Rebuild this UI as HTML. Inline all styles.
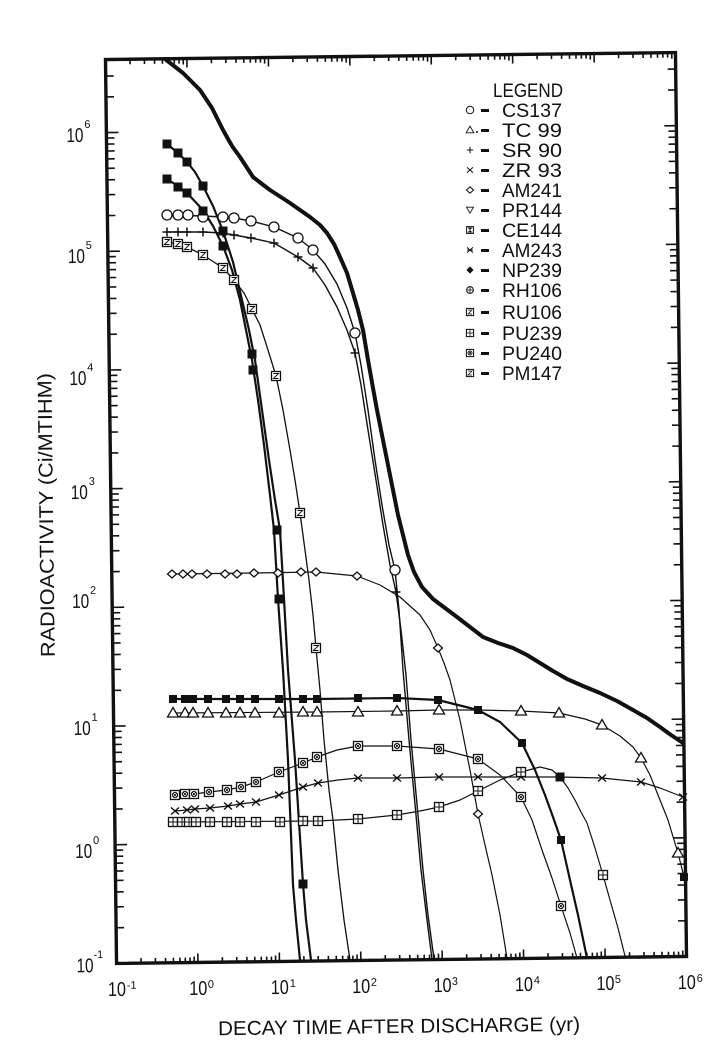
<!DOCTYPE html>
<html><head><meta charset="utf-8"><style>
html,body{margin:0;padding:0;background:#fff;}
svg{display:block;}
text{font-family:"Liberation Sans",sans-serif;fill:#111;}
</style></head><body>
<svg width="724" height="1056" viewBox="0 0 724 1056" xmlns="http://www.w3.org/2000/svg">
<rect width="724" height="1056" fill="#fff"/>
<defs>
<g id="mc"><circle r="5" fill="#fff" stroke="#111" stroke-width="1.3"/></g>
<g id="mp"><path d="M-4.5 0H4.5M0 -4.5V4.5" stroke="#111" stroke-width="1.5" fill="none"/></g>
<g id="mx"><path d="M-4 -3.5L4 3.5M-4 3.5L4 -3.5" stroke="#111" stroke-width="1.4" fill="none"/></g>
<g id="mt"><path d="M0 -5.5L5.5 4H-5.5Z" fill="#fff" stroke="#111" stroke-width="1.3"/></g>
<g id="md"><path d="M-4.5 0L0 -4L4.5 0L0 4Z" fill="#fff" stroke="#111" stroke-width="1.3"/></g>
<g id="mf"><rect x="-4.5" y="-4.5" width="9" height="9" fill="#111"/></g>
<g id="mn"><rect x="-4" y="-4" width="8" height="8" fill="#111"/></g>
<g id="mq"><rect x="-4.5" y="-4.5" width="9" height="9" fill="#fff" stroke="#111" stroke-width="1.3"/><path d="M-2.5 -2.5H2.5L-2.5 2.5H2.5" fill="none" stroke="#111" stroke-width="1"/></g>
<g id="mo"><rect x="-4.5" y="-4.5" width="9" height="9" fill="#fff" stroke="#111" stroke-width="1.3"/><circle r="2.6" fill="none" stroke="#111" stroke-width="1"/><path d="M-1.8 -1.8L1.8 1.8M-1.8 1.8L1.8 -1.8" stroke="#111" stroke-width="0.9"/></g>
<g id="mh"><rect x="-4.5" y="-4.5" width="9" height="9" fill="#fff" stroke="#111" stroke-width="1.3"/><path d="M-4.5 0H4.5M0 -4.5V4.5" stroke="#111" stroke-width="1"/></g>
<g id="mr"><rect x="-4" y="-4" width="8" height="8" fill="#fff" stroke="#111" stroke-width="1.2"/><path d="M-3 -3H3L-3 3H3Z" fill="#111"/></g>
<g id="mv"><path d="M0 4.5L-5 -4H5Z" fill="#fff" stroke="#111" stroke-width="1.2"/></g>
<g id="mz"><path d="M-4 -3.5L4 3.5M-4 3.5L4 -3.5M-4 0H4" stroke="#111" stroke-width="1.3" fill="none"/></g>
<g id="mdf"><path d="M-4.5 0L0 -4.5L4.5 0L0 4.5Z" fill="#111"/></g>
<g id="mcp"><circle r="4" fill="#fff" stroke="#111" stroke-width="1.2"/><path d="M-4 0H4M0 -4V4" stroke="#111" stroke-width="1"/></g>
</defs>

<g transform="rotate(-0.7 396 508)">
<rect x="111" y="56" width="570" height="904" fill="none" stroke="#111" stroke-width="3.4"/>
<g stroke="#111" stroke-width="1.6" fill="none">
<path d="M135.5 960v-5M149.9 960v-5M160 960v-5M167.9 960v-5M174.4 960v-5M179.8 960v-5M184.5 960v-5M188.7 960v-6
M216.9 960v-5M231.3 960v-5M241.4 960v-5M249.3 960v-5M255.8 960v-5M261.2 960v-5M265.9 960v-5M270.1 960v-6
M298.4 960v-5M312.7 960v-5M322.9 960v-5M330.8 960v-5M337.2 960v-5M342.7 960v-5M347.4 960v-5M351.6 960v-6
M379.8 960v-5M394.2 960v-5M404.3 960v-5M412.2 960v-5M418.7 960v-5M424.1 960v-5M428.8 960v-5M433 960v-6
M461.2 960v-5M475.6 960v-5M485.7 960v-5M493.6 960v-5M500.1 960v-5M505.5 960v-5M510.2 960v-5M514.4 960v-6
M542.6 960v-5M557 960v-5M567.1 960v-5M575 960v-5M581.5 960v-5M586.9 960v-5M591.6 960v-5M595.8 960v-6
M624.1 960v-5M638.5 960v-5M648.6 960v-5M656.5 960v-5M663 960v-5M668.4 960v-5M673.1 960v-5M677.3 960v-6
M192.4 960v-9M273.9 960v-9M355.3 960v-9M436.7 960v-9M518.1 960v-9M599.6 960v-9"/>
<path d="M135.5 56v5M149.9 56v5M160 56v5M167.9 56v5M174.4 56v5M179.8 56v5M184.5 56v5M188.7 56v6
M216.9 56v5M231.3 56v5M241.4 56v5M249.3 56v5M255.8 56v5M261.2 56v5M265.9 56v5M270.1 56v6
M298.4 56v5M312.7 56v5M322.9 56v5M330.8 56v5M337.2 56v5M342.7 56v5M347.4 56v5M351.6 56v6
M379.8 56v5M394.2 56v5M404.3 56v5M412.2 56v5M418.7 56v5M424.1 56v5M428.8 56v5M433 56v6
M461.2 56v5M475.6 56v5M485.7 56v5M493.6 56v5M500.1 56v5M505.5 56v5M510.2 56v5M514.4 56v6
M542.6 56v5M557 56v5M567.1 56v5M575 56v5M581.5 56v5M586.9 56v5M591.6 56v5M595.8 56v6
M624.1 56v5M638.5 56v5M648.6 56v5M656.5 56v5M663 56v5M668.4 56v5M673.1 56v5M677.3 56v6
M192.4 56v9M273.9 56v9M355.3 56v9M436.7 56v9M518.1 56v9M599.6 56v9"/>
<path d="M111 924.3h8M111 903.4h8M111 888.5h8M111 877h8M111 867.6h8M111 859.7h8M111 852.8h8M111 846.7h8
M111 805.6h8M111 784.7h8M111 769.8h8M111 758.3h8M111 748.9h8M111 741h8M111 734.1h8M111 728h8
M111 686.9h8M111 666h8M111 651.1h8M111 639.6h8M111 630.2h8M111 622.3h8M111 615.4h8M111 609.3h8
M111 568.2h8M111 547.3h8M111 532.4h8M111 520.9h8M111 511.5h8M111 503.6h8M111 496.7h8M111 490.6h8
M111 449.5h8M111 428.6h8M111 413.7h8M111 402.2h8M111 392.8h8M111 384.9h8M111 378h8M111 371.9h8
M111 330.8h8M111 309.9h8M111 295h8M111 283.5h8M111 274.1h8M111 266.2h8M111 259.3h8M111 253.2h8
M111 212.1h8M111 191.2h8M111 176.3h8M111 164.8h8M111 155.4h8M111 147.5h8M111 140.6h8M111 134.5h8
M111 93.4h8M111 72.5h8
M111 841.3h12M111 722.6h12M111 603.9h12M111 485.2h12M111 366.5h12M111 247.8h12M111 129.1h12"/>
<path d="M681 924.3h-8M681 903.4h-8M681 888.5h-8M681 877h-8M681 867.6h-8M681 859.7h-8M681 852.8h-8M681 846.7h-8
M681 805.6h-8M681 784.7h-8M681 769.8h-8M681 758.3h-8M681 748.9h-8M681 741h-8M681 734.1h-8M681 728h-8
M681 686.9h-8M681 666h-8M681 651.1h-8M681 639.6h-8M681 630.2h-8M681 622.3h-8M681 615.4h-8M681 609.3h-8
M681 568.2h-8M681 547.3h-8M681 532.4h-8M681 520.9h-8M681 511.5h-8M681 503.6h-8M681 496.7h-8M681 490.6h-8
M681 449.5h-8M681 428.6h-8M681 413.7h-8M681 402.2h-8M681 392.8h-8M681 384.9h-8M681 378h-8M681 371.9h-8
M681 330.8h-8M681 309.9h-8M681 295h-8M681 283.5h-8M681 274.1h-8M681 266.2h-8M681 259.3h-8M681 253.2h-8
M681 212.1h-8M681 191.2h-8M681 176.3h-8M681 164.8h-8M681 155.4h-8M681 147.5h-8M681 140.6h-8M681 134.5h-8
M681 93.4h-8M681 72.5h-8
M681 841.3h-12M681 722.6h-12M681 603.9h-12M681 485.2h-12M681 366.5h-12M681 247.8h-12M681 129.1h-12"/>
</g>

<!-- Y tick labels -->
<g font-size="20">
<text x="71" y="138.1" textLength="17" lengthAdjust="spacingAndGlyphs">10</text>
<text x="71" y="259.1" textLength="17" lengthAdjust="spacingAndGlyphs">10</text>
<text x="71" y="381.1" textLength="17" lengthAdjust="spacingAndGlyphs">10</text>
<text x="71" y="495.1" textLength="17" lengthAdjust="spacingAndGlyphs">10</text>
<text x="71" y="604.1" textLength="17" lengthAdjust="spacingAndGlyphs">10</text>
<text x="71" y="731.1" textLength="17" lengthAdjust="spacingAndGlyphs">10</text>
<text x="71" y="854.1" textLength="17" lengthAdjust="spacingAndGlyphs">10</text>
<text x="71" y="968.5" textLength="17" lengthAdjust="spacingAndGlyphs">10</text>
</g>
<g font-size="11">
<text x="89" y="124.1">6</text>
<text x="89" y="245.1">5</text>
<text x="89" y="367.1">4</text>
<text x="89" y="481.1">3</text>
<text x="89" y="590.1">2</text>
<text x="89" y="717.1">1</text>
<text x="89" y="840.1">0</text>
<text x="88" y="954.5">-1</text>
</g>

<!-- X tick labels -->
<g font-size="20" text-anchor="middle">
<text x="111" y="992.5" textLength="18" lengthAdjust="spacingAndGlyphs">10</text>
<text x="192.4" y="992.5" textLength="18" lengthAdjust="spacingAndGlyphs">10</text>
<text x="273.9" y="992.5" textLength="18" lengthAdjust="spacingAndGlyphs">10</text>
<text x="355.3" y="992.5" textLength="18" lengthAdjust="spacingAndGlyphs">10</text>
<text x="436.7" y="992.5" textLength="18" lengthAdjust="spacingAndGlyphs">10</text>
<text x="518.1" y="992.5" textLength="18" lengthAdjust="spacingAndGlyphs">10</text>
<text x="599.6" y="992.5" textLength="18" lengthAdjust="spacingAndGlyphs">10</text>
<text x="681" y="992.5" textLength="18" lengthAdjust="spacingAndGlyphs">10</text>
</g>
<g font-size="11">
<text x="121" y="985.5">-1</text>
<text x="202" y="985.5">0</text>
<text x="284" y="985.5">1</text>
<text x="365" y="985.5">2</text>
<text x="446" y="985.5">3</text>
<text x="528" y="985.5">4</text>
<text x="609" y="985.5">5</text>
<text x="691" y="985.5">6</text>
</g>

<text x="211.7" y="1033" font-size="20" textLength="362" lengthAdjust="spacingAndGlyphs">DECAY TIME AFTER DISCHARGE (yr)</text>
<text transform="translate(53,510.8) rotate(-90)" x="0" y="0" text-anchor="middle" font-size="20" textLength="284" lengthAdjust="spacingAndGlyphs">RADIOACTIVITY (Ci/MTIHM)</text>
</g>

<!-- Curves (screen coords) -->
<g fill="none" stroke="#111" stroke-linejoin="round" stroke-linecap="round">
<polyline stroke-width="4" points="165,59 183,73 200,90 212,108 223,130 232,146 240,157 253,177 262,184 270,190 290,203 310,217 320,225 327,233 334,244 340,257 347,273 353,293 358,310 363,330 368,360 373,388 377,410 382,435 387,460 393,490 398,515 403,535 408,555 414,572 422,587 433,599 445,608 457,617 470,627 483,637 498,643 513,648 527,655 540,663 553,671 567,679 583,686 600,693 617,701 633,710 647,718 660,727 671,735 683,743"/>
<polyline stroke-width="2.2" points="167,179 178,186 187,193 203,210 213,226 223,246 232,270 240,300 246,330 252,360 258,400 264,445 270,495 274,530 278,599 283,670 288,760 293,885 296,920 300,960"/>
<polyline stroke-width="2.2" points="167,144 178,153 187,162 195,172 203,186 213,206 223,231 233,262 242,300 249,330 255,360 262,410 269,460 275,500 280,530 284,599 288,670 295,760 303,884 306,920 311,960"/>
<polyline stroke-width="1.3" points="167,242 178,244 187,247 203,255 223,268 234,280 244,293 252,309 260,325 268,350 276,376 283,410 290,450 295,480 300,513 305,550 309,580 313,615 316,648 320,690 324,740 329,790 333,820 338,870 344,920 350,960"/>
<polyline stroke-width="1.4" points="167,215 203,216 223,217 234,218 251,221 274,227 298,238 313,250 325,264 337,284 347,308 355,333 361,365 368,410 375,460 382,505 389,545 395,570 399,610 403,670 409,740 416,815 421,870 427,920 432,959"/>
<polyline stroke-width="1.4" points="167,232 203,232 223,233 234,235 251,238 274,243 298,257 313,268 325,285 337,307 347,330 355,353 361,385 368,430 376,480 383,525 390,565 396,592 401,630 406,675 411,740 418,815 423,870 428,915 434,959"/>
<polyline stroke-width="1.2" points="172,574 254,573 316,572 357,576 380,585 400,597 420,615 430,630 438,648 444,663 450,680 460,720 470,770 478,814 485,845 492,875 500,915 507,958"/>
<polyline stroke-width="2.2" points="173,699 255,699 317,699 397,698 438,700 478,710 500,722 522,743 535,770 545,795 553,817 561,840 570,880 578,915 587,958"/>
<polyline stroke-width="1.2" points="173,713 317,712 397,711 439,710 478,710 521,711 559,713 585,719 602,725 620,736 633,747 641,758 650,775 660,800 668,820 674,840 678,853 684,877"/>
<polyline stroke-width="1.2" points="175,795 194,794 209,792 227,790 241,787 256,782 279,772 303,763 317,757 337,750 358,746 397,746 439,749 478,759 500,775 521,797 532,820 542,850 552,878 561,906 570,933 577,958"/>
<polyline stroke-width="1.2" points="175,811 187,810 195,809 210,808 228,806 240,804 256,802 279,795 303,787 318,783 338,780 358,778 397,778 439,777 560,777 602,778 641,782 660,788 683,797"/>
<polyline stroke-width="1.2" points="173,822 318,821 358,819 397,815 420,811 439,807 460,800 478,791 500,780 521,772 540,767 552,770 560,777 568,788 575,800 581,812 587,823 595,848 603,875 610,900 618,928 625,956"/>
</g>

<!-- Markers -->
<g>
<use href="#mc" x="167" y="215"/><use href="#mc" x="178" y="215"/><use href="#mc" x="188" y="215"/><use href="#mc" x="203" y="217"/><use href="#mc" x="223" y="217"/><use href="#mc" x="234" y="218"/><use href="#mc" x="251" y="221"/><use href="#mc" x="274" y="227"/><use href="#mc" x="298" y="238"/><use href="#mc" x="313" y="250"/><use href="#mc" x="355" y="333"/><use href="#mc" x="395" y="570"/>
<use href="#mp" x="167" y="232"/><use href="#mp" x="178" y="232"/><use href="#mp" x="187" y="232"/><use href="#mp" x="203" y="232"/><use href="#mp" x="223" y="233"/><use href="#mp" x="234" y="235"/><use href="#mp" x="251" y="238"/><use href="#mp" x="274" y="243"/><use href="#mp" x="298" y="257"/><use href="#mp" x="313" y="268"/><use href="#mp" x="355" y="353"/><use href="#mp" x="396" y="592"/>
<use href="#mq" x="167" y="242"/><use href="#mq" x="178" y="244"/><use href="#mq" x="187" y="247"/><use href="#mq" x="203" y="255"/><use href="#mq" x="223" y="268"/><use href="#mq" x="234" y="280"/><use href="#mq" x="252" y="309"/><use href="#mq" x="276" y="376"/><use href="#mq" x="300" y="513"/><use href="#mq" x="316" y="648"/>
<use href="#mf" x="167" y="144"/><use href="#mf" x="178" y="153"/><use href="#mf" x="187" y="162"/><use href="#mf" x="203" y="186"/><use href="#mf" x="167" y="179"/><use href="#mf" x="178" y="187"/><use href="#mf" x="187" y="193"/><use href="#mf" x="203" y="211"/><use href="#mf" x="223" y="231"/><use href="#mf" x="223" y="246"/><use href="#mf" x="252" y="354"/><use href="#mf" x="253" y="370"/><use href="#mf" x="277" y="530"/><use href="#mf" x="279" y="599"/><use href="#mf" x="303" y="884"/><use href="#mf" x="560" y="777"/>
<use href="#md" x="172" y="574"/><use href="#md" x="183" y="574"/><use href="#md" x="192" y="574"/><use href="#md" x="207" y="574"/><use href="#md" x="225" y="574"/><use href="#md" x="237" y="574"/><use href="#md" x="254" y="573"/><use href="#md" x="278" y="573"/><use href="#md" x="301" y="572"/><use href="#md" x="316" y="572"/><use href="#md" x="357" y="576"/><use href="#md" x="438" y="648"/><use href="#md" x="478" y="814"/>
<use href="#mn" x="173" y="699"/><use href="#mn" x="185" y="699"/><use href="#mn" x="193" y="699"/><use href="#mn" x="208" y="699"/><use href="#mn" x="226" y="699"/><use href="#mn" x="240" y="699"/><use href="#mn" x="255" y="699"/><use href="#mn" x="279" y="699"/><use href="#mn" x="303" y="699"/><use href="#mn" x="317" y="699"/><use href="#mn" x="358" y="698"/><use href="#mn" x="397" y="698"/><use href="#mn" x="438" y="700"/><use href="#mn" x="478" y="710"/><use href="#mn" x="522" y="743"/><use href="#mn" x="561" y="840"/><use href="#mn" x="684" y="877"/>
<use href="#mt" x="173" y="713"/><use href="#mt" x="185" y="713"/><use href="#mt" x="193" y="713"/><use href="#mt" x="208" y="713"/><use href="#mt" x="226" y="713"/><use href="#mt" x="240" y="713"/><use href="#mt" x="255" y="713"/><use href="#mt" x="279" y="713"/><use href="#mt" x="303" y="712"/><use href="#mt" x="317" y="712"/><use href="#mt" x="358" y="712"/><use href="#mt" x="397" y="711"/><use href="#mt" x="439" y="710"/><use href="#mt" x="521" y="711"/><use href="#mt" x="559" y="713"/><use href="#mt" x="602" y="725"/><use href="#mt" x="641" y="758"/><use href="#mt" x="678" y="853"/>
<use href="#mo" x="175" y="795"/><use href="#mo" x="185" y="794"/><use href="#mo" x="194" y="794"/><use href="#mo" x="209" y="792"/><use href="#mo" x="227" y="790"/><use href="#mo" x="241" y="787"/><use href="#mo" x="256" y="782"/><use href="#mo" x="279" y="772"/><use href="#mo" x="303" y="763"/><use href="#mo" x="317" y="757"/><use href="#mo" x="358" y="746"/><use href="#mo" x="397" y="746"/><use href="#mo" x="439" y="749"/><use href="#mo" x="478" y="759"/><use href="#mo" x="521" y="797"/><use href="#mo" x="561" y="906"/>
<use href="#mx" x="175" y="811"/><use href="#mx" x="187" y="810"/><use href="#mx" x="195" y="809"/><use href="#mx" x="210" y="808"/><use href="#mx" x="228" y="806"/><use href="#mx" x="240" y="804"/><use href="#mx" x="256" y="802"/><use href="#mx" x="279" y="795"/><use href="#mx" x="303" y="787"/><use href="#mx" x="318" y="783"/><use href="#mx" x="358" y="778"/><use href="#mx" x="397" y="778"/><use href="#mx" x="439" y="777"/><use href="#mx" x="478" y="777"/><use href="#mx" x="521" y="777"/><use href="#mx" x="602" y="778"/><use href="#mx" x="641" y="782"/><use href="#mx" x="683" y="797"/>
<use href="#mh" x="173" y="822"/><use href="#mh" x="182" y="822"/><use href="#mh" x="189" y="822"/><use href="#mh" x="196" y="822"/><use href="#mh" x="210" y="822"/><use href="#mh" x="227" y="822"/><use href="#mh" x="240" y="822"/><use href="#mh" x="256" y="822"/><use href="#mh" x="280" y="822"/><use href="#mh" x="303" y="821"/><use href="#mh" x="318" y="821"/><use href="#mh" x="358" y="819"/><use href="#mh" x="397" y="815"/><use href="#mh" x="439" y="807"/><use href="#mh" x="478" y="791"/><use href="#mh" x="521" y="772"/><use href="#mh" x="603" y="875"/>
</g>

<!-- Legend -->
<g font-size="19">
<text x="493" y="97" textLength="70" lengthAdjust="spacingAndGlyphs">LEGEND</text>
<text x="502" y="117" textLength="60" lengthAdjust="spacingAndGlyphs">CS137</text>
<text x="502" y="137" textLength="60" lengthAdjust="spacingAndGlyphs">TC 99</text>
<text x="502" y="157" textLength="60" lengthAdjust="spacingAndGlyphs">SR 90</text>
<text x="502" y="177" textLength="60" lengthAdjust="spacingAndGlyphs">ZR 93</text>
<text x="502" y="197" textLength="60" lengthAdjust="spacingAndGlyphs">AM241</text>
<text x="502" y="217" textLength="60" lengthAdjust="spacingAndGlyphs">PR144</text>
<text x="502" y="237" textLength="60" lengthAdjust="spacingAndGlyphs">CE144</text>
<text x="502" y="257" textLength="60" lengthAdjust="spacingAndGlyphs">AM243</text>
<text x="502" y="277" textLength="60" lengthAdjust="spacingAndGlyphs">NP239</text>
<text x="502" y="297" textLength="60" lengthAdjust="spacingAndGlyphs">RH106</text>
<text x="502" y="319" textLength="60" lengthAdjust="spacingAndGlyphs">RU106</text>
<text x="502" y="340" textLength="60" lengthAdjust="spacingAndGlyphs">PU239</text>
<text x="502" y="360" textLength="60" lengthAdjust="spacingAndGlyphs">PU240</text>
<text x="502" y="380" textLength="60" lengthAdjust="spacingAndGlyphs">PM147</text>
</g>
<g fill="#111">
<rect x="481" y="109" width="8" height="3"/><rect x="481" y="129" width="8" height="3"/><rect x="481" y="149" width="8" height="3"/><rect x="481" y="169" width="8" height="3"/><rect x="481" y="189" width="8" height="3"/><rect x="481" y="209" width="8" height="3"/><rect x="481" y="229" width="8" height="3"/><rect x="481" y="249" width="8" height="3"/><rect x="481" y="269" width="8" height="3"/><rect x="481" y="289" width="8" height="3"/><rect x="481" y="311" width="8" height="3"/><rect x="481" y="332" width="8" height="3"/><rect x="481" y="352" width="8" height="3"/><rect x="481" y="372" width="8" height="3"/>
<circle cx="477" cy="132" r="1"/>
</g>
<use href="#mc" transform="translate(470,110) scale(0.75)"/>
<use href="#mt" transform="translate(470,130) scale(0.7)"/>
<use href="#mp" transform="translate(470,150) scale(0.7)"/>
<use href="#mx" transform="translate(470,170) scale(0.75)"/>
<use href="#md" transform="translate(470,190) scale(0.8)"/>
<use href="#mv" transform="translate(470,210) scale(0.7)"/>
<use href="#mr" transform="translate(470,230) scale(0.85)"/>
<use href="#mz" transform="translate(470,250) scale(0.75)"/>
<use href="#mdf" transform="translate(470,270) scale(0.8)"/>
<use href="#mcp" transform="translate(470,290) scale(0.85)"/>
<use href="#mq" transform="translate(470,312) scale(0.8)"/>
<use href="#mh" transform="translate(470,333) scale(0.8)"/>
<use href="#mo" transform="translate(470,353) scale(0.8)"/>
<use href="#mq" transform="translate(470,373) scale(0.8)"/>
</svg>
</body></html>
